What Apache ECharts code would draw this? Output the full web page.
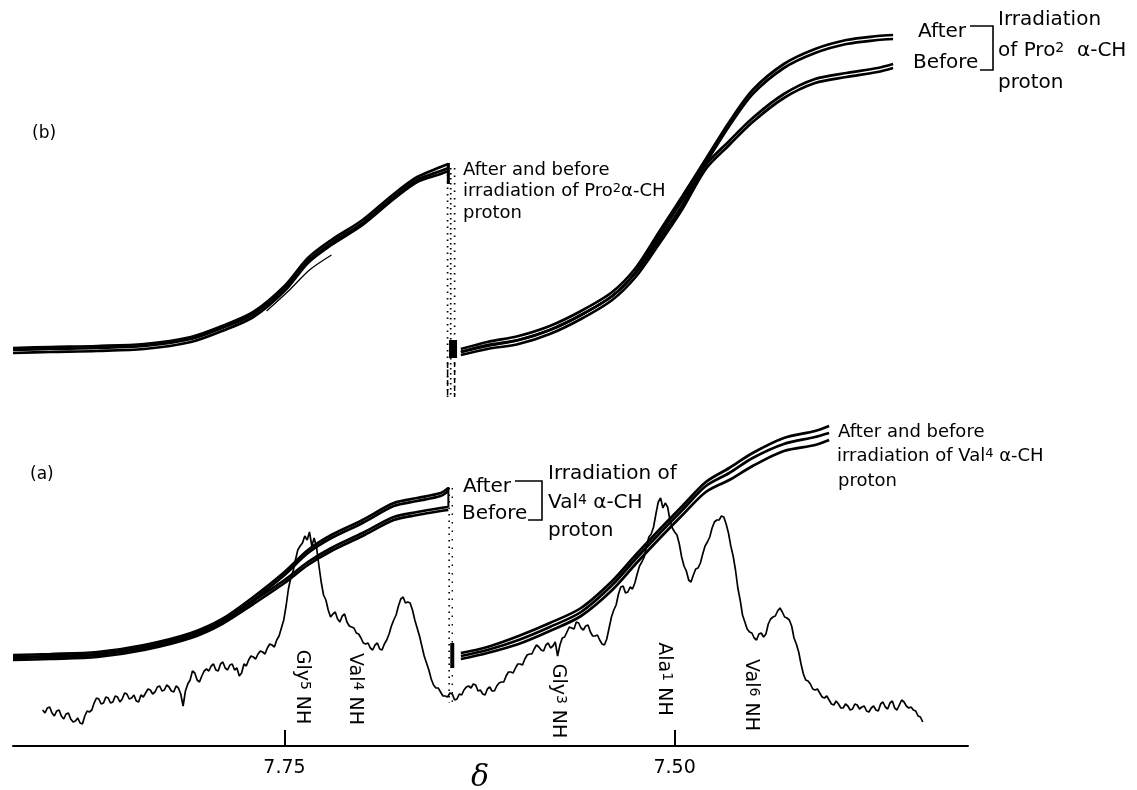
<!DOCTYPE html>
<html><head><meta charset="utf-8">
<script src="https://cdn.jsdelivr.net/npm/echarts@6/dist/echarts.min.js"></script>
<style>html,body{margin:0;padding:0;background:#fff}#c{width:1137px;height:790px}</style>
</head><body><div id="c"></div>
<script>
// ---- x axis (chemical shift, ppm) ----
const tickValues = [7.75, 7.5];
const tickLabels = ['7.75', '7.50'];

// ---- spectrum (a), ppm and intensity ----
const specPpm = [7.905,7.902,7.899,7.896,7.893,7.890,7.887,7.884,7.881,7.878,
7.875,7.872,7.869,7.866,7.863,7.860,7.857,7.854,7.851,7.848,
7.845,7.842,7.839,7.836,7.833,7.830,7.827,7.824,7.821,7.818,
7.815,7.812,7.809,7.806,7.803,7.800,7.797,7.794,7.791,7.788,
7.785,7.782,7.779,7.776,7.773,7.770,7.767,7.764,7.761,7.758,
7.755,7.752,7.749,7.746,7.743,7.740,7.737,7.734,7.731,7.728,
7.725,7.722,7.719,7.716,7.713,7.710,7.707,7.704,7.701,7.698,
7.695,7.692,7.689,7.686,7.683,7.680,7.677,7.674,7.671,7.668,
7.665,7.662,7.659,7.656,7.653,7.650,7.647,7.644,7.641,7.638,
7.635,7.632,7.629,7.626,7.623,7.620,7.617,7.614,7.611,7.608,
7.605,7.602,7.599,7.596,7.593,7.590,7.587,7.584,7.581,7.578,
7.575,7.572,7.569,7.566,7.563,7.560,7.557,7.554,7.551,7.548,
7.545,7.542,7.539,7.536,7.533,7.530,7.527,7.524,7.521,7.518,
7.515,7.512,7.509,7.506,7.503,7.500,7.497,7.494,7.491,7.488,
7.485,7.482,7.479,7.476,7.473,7.470,7.467,7.464,7.461,7.458,
7.455,7.452,7.449,7.446,7.443,7.440,7.437,7.434,7.431,7.428,
7.425,7.422,7.419,7.416,7.413,7.410,7.407,7.404,7.401,7.398,
7.395,7.392,7.389,7.386,7.383,7.380,7.377,7.374,7.371,7.368,
7.365,7.362,7.359,7.356,7.353,7.350,7.347,7.344,7.341];
const specInt = [36,38,33,35,30,32,27,25,23,30,
34,43,47,43,48,44,49,47,52,48,
45,51,53,56,54,60,56,59,54,58,
40,62,75,66,70,77,80,76,82,78,
81,76,70,82,86,89,92,94,98,101,
106,118,140,168,186,200,210,214,208,181,
151,136,132,127,130,124,119,113,108,102,
98,101,97,102,112,126,140,149,144,136,
118,100,83,67,58,54,50,53,46,52,
56,60,62,55,52,57,55,60,64,70,
74,78,82,87,92,97,99,95,103,100,
90,108,114,118,124,118,120,114,110,106,
101,118,136,152,160,154,157,172,184,200,
212,232,248,243,226,214,202,180,166,171,
178,192,204,218,226,230,222,200,176,146,
124,114,108,112,109,122,129,135,134,128,
120,102,82,66,62,56,53,48,46,41,
42,38,40,37,41,39,35,38,36,42,
39,43,38,41,44,38,36,30,24];
// noise readings halfway between the samples above
const specMidInt = [33,39,30,36,27,33,24,28,22,35,
36,48,42,49,43,50,44,53,47,51,
44,49,57,52,59,55,61,55,60,52,
55,66,73,64,75,75,82,75,84,76,
82,78,73,80,90,87,95,92,102,99,
110,126,157,175,196,203,206,200,199,164,
146,129,134,124,132,120,118,112,103,103,
96,103,96,106,120,131,147,143,143,126,
110,90,76,61,58,50,49,52,47,51,
59,58,61,56,51,59,55,63,64,74,
73,82,81,91,92,101,96,101,98,104,
101,109,119,117,123,116,121,110,111,102,
107,129,141,159,153,159,163,180,189,209,
219,244,238,239,218,211,189,175,164,177,
183,200,209,224,226,229,213,190,158,131,
117,113,106,113,112,127,130,138,129,126,
108,94,72,65,57,57,49,50,42,45,
38,42,36,42,37,40,34,40,35,44,
37,45,36,46,40,39,35,29];

// ---- integrals, left half (both traces) ----
const leftPpm = [7.924,7.90,7.87,7.84,7.81,7.79,7.77,7.75,7.735,7.72,7.70,7.68,7.665,7.65,7.645];
const bLeft1 = [398,399,400,402,409,420,434,460,488,506,526,552,569,579,582];
const bLeft2 = [396,397,398,400,407,418,432,458,485,503,523,549,566,575,578];
const bLeft3 = [393,394,395,397,404,415,429,455,483,501,521,547,564,572,575];
const bStrayPpm = [7.7615,7.7468,7.734,7.7199];
const bStray = [435,456,476,491];
const aLeftAfter1 = [91,92,94,101,113,127,149,174,196,211,226,243,248,253,258];
const aLeftAfter2 = [88,89,91,98,110,124,146,171,193,208,223,240,245,250,255];
const aLeftBefore1 = [89,90,92,99,111,125,145,166,184,198,213,229,234,238,239];
const aLeftBefore2 = [86,87,89,96,108,122,142,163,181,195,210,226,231,235,236];

// ---- integrals, right half ----
const bRightPpm = [7.637,7.62,7.60,7.58,7.56,7.54,7.525,7.51,7.495,7.48,7.465,7.45,7.43,7.41,7.39,7.37,7.36];
const bAfter1 = [397,404,410,420,435,454,478,514,550,587,624,656,682,697,706,710,711];
const bAfter2 = [394,401,406,416,431,450,474,510,546,583,620,652,678,693,702,706,707];
const bBefore1 = [394,400,406,416,431,450,473,506,541,581,605,628,652,667,673,678,682];
const bBefore2 = [391,397,402,412,427,446,469,502,537,577,601,624,648,663,669,674,678];
const aRightPpm = [7.637,7.62,7.60,7.58,7.56,7.54,7.525,7.51,7.495,7.48,7.465,7.45,7.43,7.41,7.401];
const aRight1 = [93,99,110,123,138,165,191,216,240,264,278,293,308,315,320];
const aRight2 = [90,96,106,119,134,161,187,212,236,260,273,288,302,309,313];
const aRight3 = [87,93,102,115,130,156,182,207,231,254,266,280,295,301,306];

// ---- pen-up / dotted connections at the split ----
const bDotPpm = [7.6455, 7.6435, 7.641];
const bDotRange = [578, 349];
const bBlobPpm = 7.642, bBlobRange = [388, 406];
const aDotPpm = [7.6445, 7.6425], aDotRange = [258, 43];
const aBlobPpm = 7.6425, aBlobRange = [78, 103];

const zip = (xs, ys) => xs.map((x, i) => [x, ys[i]]);
const specData = [];
specPpm.forEach((p, i) => {
  specData.push([p, specInt[i]]);
  if (i < specMidInt.length) specData.push([(p + specPpm[i + 1]) / 2, specMidInt[i]]);
});
const FF = '"DejaVu Sans", sans-serif';

function ln(data, w, opts) {
  return Object.assign({
    type: 'line', data, symbol: 'none', showSymbol: false, silent: true,
    smooth: 0.3, lineStyle: { color: '#000', width: w }
  }, opts || {});
}
function vline(x, range, w, type) {
  return ln([[x, range[0]], [x, range[1]]], w, { smooth: false, lineStyle: { color: '#000', width: w, type: type || 'solid' } });
}

const IW = 2.7;
const series = [
  ln(specData, 1.7, { smooth: false }),
  ln(zip(leftPpm, bLeft1), IW), ln(zip(leftPpm, bLeft2), IW), ln(zip(leftPpm, bLeft3), IW),
  ln(zip(bStrayPpm, bStray), 1.3),
  ln(zip(leftPpm, aLeftAfter1), IW), ln(zip(leftPpm, aLeftAfter2), IW),
  ln(zip(leftPpm, aLeftBefore1), IW), ln(zip(leftPpm, aLeftBefore2), IW),
  ln(zip(bRightPpm, bAfter1), IW), ln(zip(bRightPpm, bAfter2), IW),
  ln(zip(bRightPpm, bBefore1), IW), ln(zip(bRightPpm, bBefore2), IW),
  ln(zip(aRightPpm, aRight1), IW), ln(zip(aRightPpm, aRight2), IW), ln(zip(aRightPpm, aRight3), IW),
  vline(bDotPpm[0], bDotRange, 1.7, [1.5, 5]),
  vline(bDotPpm[1], bDotRange, 1.7, [1.5, 3.5]),
  vline(bDotPpm[2], bDotRange, 1.7, [1.5, 6]),
  vline(bBlobPpm, bBlobRange, 8),
  vline(bDotPpm[0], [384, 349], 1.5, [6, 3]),
  vline(bDotPpm[2], [384, 349], 1.5, [5, 3]),
  vline(leftPpm[14], [562, 583], 3),
  vline(aDotPpm[0], aDotRange, 1.6, [1.5, 5]),
  vline(aDotPpm[1], aDotRange, 1.4, [1.5, 7]),
  vline(aBlobPpm, aBlobRange, 4),
  vline(leftPpm[14], [239, 259], 2)
];

function T(x, y, text, size, extra) {
  const s = size || 18;
  return Object.assign({
    type: 'text', x, y, silent: true,
    style: {
      text, fill: '#000', fontSize: s, fontFamily: FF,
      align: 'left', verticalAlign: 'middle',
      rich: { s: { fontSize: Math.round(s * 0.72), fontFamily: FF, fill: '#000', verticalAlign: 'top', lineHeight: 1 } }
    }
  }, extra || {});
}
function R(x, y, text) {
  const t = T(x, y, text, 19, { rotation: -Math.PI / 2 });
  t.style.align = 'center';
  return t;
}
function bracket(pts) {
  return { type: 'polyline', silent: true, shape: { points: pts }, style: { stroke: '#000', lineWidth: 1.6, fill: null } };
}

const graphic = [
  T(32, 134, '(b)', 17),
  T(30, 475, '(a)', 17),
  T(463, 170, 'After and before', 18),
  T(463, 191, 'irradiation of Pro{s|2}α-CH', 18),
  T(463, 213, 'proton', 18),
  T(918, 32, 'After', 20),
  T(913, 63, 'Before', 20),
  bracket([[970, 26], [993, 26], [993, 70], [980, 70]]),
  T(998, 20, 'Irradiation', 20),
  T(998, 51, 'of Pro{s|2}  α-CH', 20),
  T(998, 83, 'proton', 20),
  T(463, 487, 'After', 20),
  T(462, 514, 'Before', 20),
  bracket([[515, 481], [542, 481], [542, 520], [528, 520]]),
  T(548, 474, 'Irradiation of', 20),
  T(548, 503, 'Val{s|4} α-CH', 20),
  T(548, 531, 'proton', 20),
  T(838, 432, 'After and before', 18),
  T(837, 456, 'irradiation of Val{s|4} α-CH', 18),
  T(838, 481, 'proton', 18),
  R(302, 687, 'Gly{s|5} NH'),
  R(355, 689, 'Val{s|4} NH'),
  R(558, 701, 'Gly{s|3} NH'),
  R(664, 679, 'Ala{s|1} NH'),
  R(751, 695, 'Val{s|6} NH'),
  { type: 'text', x: 480, y: 778, silent: true,
    style: { text: 'δ', fill: '#000', fontSize: 30, fontFamily: '"DejaVu Serif", serif', fontStyle: 'italic', align: 'center', verticalAlign: 'middle' } }
];

const chart = echarts.init(document.getElementById('c'), null, { renderer: 'canvas' });
chart.setOption({
  animation: false,
  backgroundColor: '#fff',
  grid: { left: 13, right: 169, top: 0, bottom: 42, outerBoundsMode: 'none' },
  xAxis: {
    type: 'value', inverse: true, min: 7.312, max: 7.924,
    axisLine: { show: true, lineStyle: { color: '#000', width: 2 } },
    axisTick: { show: true, inside: true, length: 16, lineStyle: { color: '#000', width: 2 }, customValues: tickValues },
    axisLabel: { show: true, color: '#000', fontSize: 19, fontFamily: FF, margin: 11, customValues: tickValues,
      formatter: v => tickLabels[tickValues.indexOf(v)] ?? '' },
    splitLine: { show: false }
  },
  yAxis: { type: 'value', min: -2, max: 746, show: false, splitLine: { show: false } },
  series,
  graphic
});
</script>
</body></html>
